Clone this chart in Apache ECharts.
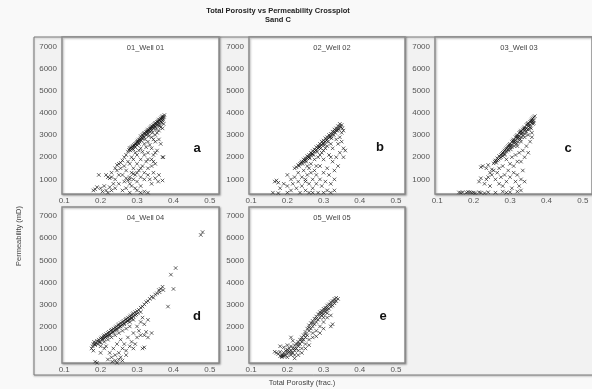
<!DOCTYPE html>
<html><head><meta charset="utf-8">
<script src="https://cdn.jsdelivr.net/npm/echarts@6/dist/echarts.min.js"></script>
<style>html,body{margin:0;padding:0;background:#f9f9f9}#c{width:592px;height:389px}</style>
</head><body><div id="c"></div>
<script>
const chartTitle = 'Total Porosity vs Permeability Crossplot';
const chartSubtitle = 'Sand C';
const xAxisTitle = 'Total Porosity (frac.)';
const yAxisTitle = 'Permeability (mD)';
const wellNames = ['01_Well 01', '02_Well 02', '03_Well 03', '04_Well 04', '05_Well 05'];
const panelLetters = ['a', 'b', 'c', 'd', 'e'];
const xTickLabels = [0.1, 0.2, 0.3, 0.4, 0.5];
const yTickLabels = [1000, 2000, 3000, 4000, 5000, 6000, 7000];

const well01 = [
[0.275,2250],[0.278,2330],[0.28,2400],[0.282,2300],[0.285,2450],[0.287,2380],[0.29,2500],[0.29,2350],[0.292,2550],[0.295,2600],
[0.295,2450],[0.298,2650],[0.3,2700],[0.3,2550],[0.302,2750],[0.305,2800],[0.305,2600],[0.307,2700],[0.31,2850],[0.31,2950],
[0.312,2750],[0.315,3000],[0.315,2850],[0.318,3050],[0.32,3100],[0.32,2900],[0.322,2800],[0.325,3150],[0.325,3000],[0.328,3200],
[0.33,3250],[0.33,3050],[0.332,2950],[0.335,3300],[0.335,3150],[0.338,3350],[0.34,3400],[0.34,3200],[0.342,3100],[0.345,3450],
[0.345,3300],[0.348,3500],[0.35,3550],[0.35,3400],[0.352,3250],[0.355,3600],[0.355,3450],[0.358,3650],[0.36,3700],[0.36,3550],
[0.362,3400],[0.365,3750],[0.365,3600],[0.368,3800],[0.37,3850],[0.37,3650],[0.372,3700],[0.375,3900],[0.373,3500],
[0.282,2420],[0.288,2480],[0.293,2520],[0.297,2580],[0.303,2680],[0.308,2780],[0.313,2880],[0.317,2950],[0.323,3050],[0.327,3120],
[0.333,3220],[0.337,3280],[0.343,3380],[0.347,3420],[0.353,3520],[0.357,3580],[0.363,3680],[0.367,3720],[0.371,3780],[0.374,3820],
[0.35,3350],[0.34,3300],[0.33,3150],[0.36,3450],[0.368,3550],
[0.22,1100],[0.23,1300],[0.24,1500],[0.25,1700],[0.26,1850],[0.265,2000],[0.27,2100],[0.245,1650],[0.255,1750],
[0.26,1200],[0.265,900],[0.27,1050],[0.275,950],[0.28,1100],[0.28,800],[0.285,1300],[0.29,1000],[0.29,1500],[0.295,1200],
[0.3,1700],[0.3,900],[0.305,1400],[0.31,1100],[0.31,1900],[0.315,1600],[0.32,2100],[0.32,1300],[0.325,1800],[0.33,2200],
[0.33,1500],[0.335,1000],[0.34,2400],[0.34,1900],[0.345,2100],[0.35,2700],[0.35,1700],[0.355,2300],[0.36,2800],[0.36,1200],
[0.365,2600],[0.37,3300],[0.37,2000],[0.372,2000],[0.358,900],[0.37,950],[0.345,1300],[0.35,1050],[0.3,500],[0.31,400],
[0.32,450],[0.33,400],[0.28,400],[0.27,600],[0.26,500],[0.25,800],[0.25,1200],[0.24,1000],[0.235,800],[0.23,1100],
[0.225,1050],[0.215,1200],[0.195,1200],[0.19,650],[0.185,550],[0.18,500],[0.2,600],[0.205,450],[0.21,700],[0.215,500],
[0.22,400],[0.225,650],[0.23,500],[0.24,600],[0.245,1400],[0.255,1500],[0.265,1600],[0.27,1400],[0.275,1800],[0.28,1700],
[0.285,2000],[0.29,1900],[0.295,2200],[0.3,2100],[0.305,2300],[0.31,2400],[0.315,2250],[0.32,2600],[0.325,2450],[0.33,2700],
[0.335,2550],[0.34,2900],[0.345,2800],[0.35,3000],[0.355,3100],[0.36,3200],[0.365,3350],[0.34,1600],[0.33,1900],[0.29,1250],
[0.3,1300],[0.31,1500],[0.28,1000],[0.285,700],[0.295,600],[0.34,800],[0.345,1800],[0.35,2200],[0.31,700],[0.32,1000],[0.33,1200]
];
const well02 = [
[0.22,1500],[0.225,1550],[0.23,1650],[0.232,1600],[0.235,1700],[0.238,1750],[0.24,1800],[0.242,1700],[0.245,1900],[0.248,1850],
[0.25,1950],[0.252,1800],[0.255,2050],[0.258,2000],[0.26,2100],[0.262,1950],[0.265,2200],[0.268,2150],[0.27,2280],[0.272,2100],
[0.275,2350],[0.278,2300],[0.28,2450],[0.282,2250],[0.285,2500],[0.288,2450],[0.29,2600],[0.292,2400],[0.295,2700],[0.298,2600],
[0.3,2750],[0.302,2550],[0.305,2850],[0.308,2750],[0.31,2900],[0.312,2700],[0.315,3000],[0.318,2900],[0.32,3050],[0.322,2850],
[0.325,3150],[0.328,3000],[0.33,3250],[0.332,3100],[0.335,3300],[0.338,3200],[0.34,3400],[0.342,3250],[0.345,3500],[0.348,3350],
[0.35,3450],[0.352,3300],[0.355,3200],[0.35,3100],
[0.245,1800],[0.25,1870],[0.26,2000],[0.27,2150],[0.28,2330],[0.29,2500],[0.3,2650],[0.31,2800],[0.32,2950],[0.33,3150],
[0.34,3300],[0.345,3400],[0.335,3200],[0.325,3050],[0.315,2900],[0.305,2700],[0.295,2550],[0.285,2400],[0.275,2250],[0.265,2100],[0.255,1950],
[0.2,1200],[0.21,1000],[0.17,950],[0.165,900],[0.175,850],[0.16,400],[0.175,380],[0.18,600],[0.19,800],[0.2,700],
[0.2,400],[0.21,500],[0.215,800],[0.22,1100],[0.225,600],[0.23,900],[0.23,1300],[0.235,400],[0.24,700],[0.24,1100],
[0.245,1400],[0.25,900],[0.25,500],[0.255,1200],[0.255,1600],[0.26,800],[0.26,400],[0.265,1300],[0.265,1700],[0.27,1000],
[0.27,600],[0.275,1900],[0.275,1400],[0.28,800],[0.28,1200],[0.285,2000],[0.285,400],[0.29,1600],[0.29,1000],[0.295,2200],
[0.295,700],[0.3,1300],[0.3,1900],[0.305,2400],[0.305,900],[0.31,1500],[0.31,500],[0.315,2100],[0.315,1200],[0.32,2600],
[0.32,800],[0.325,1800],[0.325,2400],[0.33,1400],[0.33,500],[0.335,2800],[0.335,2000],[0.34,2600],[0.34,1600],[0.345,2900],
[0.345,2200],[0.35,2700],[0.355,2400],[0.355,2000],[0.36,2300],[0.33,1000],[0.32,400],[0.3,400],[0.27,400],[0.25,1000],
[0.26,1500],[0.28,1600],[0.29,2100],[0.3,2300],[0.31,2500],[0.32,2000]
];
const well03 = [
[0.255,1720],[0.258,1800],[0.26,1850],[0.262,1750],[0.265,1950],[0.268,1900],[0.27,2050],[0.272,1950],[0.275,2100],[0.278,2150],
[0.28,2200],[0.28,2050],[0.283,2250],[0.285,2300],[0.285,2150],[0.288,2350],[0.29,2400],[0.29,2250],[0.293,2450],[0.295,2500],
[0.295,2350],[0.298,2550],[0.3,2600],[0.3,2450],[0.302,2350],[0.305,2700],[0.305,2550],[0.308,2750],[0.31,2800],[0.31,2650],
[0.312,2500],[0.315,2900],[0.315,2750],[0.318,2950],[0.32,3000],[0.32,2850],[0.322,2700],[0.325,3100],[0.325,2950],[0.328,3150],
[0.33,3200],[0.33,3050],[0.332,2900],[0.335,3250],[0.335,3100],[0.338,3300],[0.34,3350],[0.34,3200],[0.342,3050],[0.345,3450],
[0.345,3300],[0.348,3500],[0.35,3550],[0.35,3400],[0.352,3250],[0.355,3600],[0.355,3450],[0.358,3650],[0.36,3700],[0.36,3550],
[0.362,3750],[0.365,3800],[0.365,3650],[0.368,3850],[0.363,3500],[0.358,3300],[0.35,3000],[0.34,2900],[0.33,2700],[0.32,2500],[0.36,3100],
[0.3,2520],[0.31,2720],[0.32,2920],[0.33,3120],[0.34,3280],[0.35,3480],[0.36,3620],[0.345,3150],[0.335,3000],[0.325,2850],
[0.315,2650],[0.305,2450],[0.295,2300],[0.285,2100],[0.275,2000],[0.265,1850],[0.355,3350],[0.365,3550],[0.348,3250],[0.328,2800],[0.318,2600],
[0.22,1550],[0.225,1600],[0.24,1650],[0.235,1500],[0.245,1300],[0.25,1450],[0.255,1400],[0.215,900],[0.22,1050],[0.23,800],
[0.235,1000],[0.24,1100],[0.245,700],[0.25,1200],[0.26,1000],[0.265,1300],[0.27,800],[0.27,1500],[0.275,1100],[0.28,1600],
[0.28,700],[0.285,1200],[0.29,1900],[0.29,900],[0.295,1400],[0.3,1100],[0.3,1700],[0.305,2000],[0.305,600],[0.31,1300],
[0.31,1600],[0.315,900],[0.315,2100],[0.32,1200],[0.32,1800],[0.325,700],[0.325,2200],[0.33,1000],[0.33,1800],[0.335,1400],
[0.335,2300],[0.34,2000],[0.34,900],[0.345,2500],[0.35,2200],[0.355,2700],[0.36,2900],[0.33,500],[0.32,450],[0.3,420],
[0.29,400],[0.28,450],[0.26,400],[0.24,420],[0.23,380],[0.22,400],[0.215,420],[0.2,400],[0.19,420],[0.18,400],
[0.17,420],[0.16,410],[0.205,380],[0.195,400],[0.185,430],[0.165,400]
];
const well04 = [
[0.175,1000],[0.178,1100],[0.18,1200],[0.18,900],[0.182,1300],[0.185,1150],[0.188,1250],[0.19,1350],[0.192,1200],[0.195,1400],
[0.198,1300],[0.2,1450],[0.2,1250],[0.203,1500],[0.205,1400],[0.208,1550],[0.21,1450],[0.21,1600],[0.213,1500],[0.215,1650],
[0.218,1550],[0.22,1700],[0.22,1600],[0.223,1750],[0.225,1650],[0.228,1800],[0.23,1700],[0.23,1850],[0.233,1750],[0.235,1900],
[0.238,1800],[0.24,1950],[0.24,1850],[0.243,2000],[0.245,1900],[0.248,2050],[0.25,1950],[0.25,2100],[0.253,2000],[0.255,2150],
[0.258,2050],[0.26,2200],[0.26,2100],[0.263,2250],[0.265,2150],[0.268,2300],[0.27,2200],[0.27,2350],[0.273,2250],[0.275,2400],
[0.278,2300],[0.28,2450],[0.28,2350],[0.283,2500],[0.285,2400],[0.288,2550],[0.29,2450],[0.29,2600],[0.295,2650],[0.298,2550],
[0.3,2700],[0.302,2600],[0.305,2750],[0.31,2850],[0.31,2650],[0.315,2900],[0.32,3000],[0.325,3100],[0.33,3150],[0.335,3250],
[0.34,3350],[0.345,3300],[0.35,3450],[0.355,3500],[0.36,3650],[0.365,3700],[0.37,3800],[0.362,3550],[0.372,3650],[0.385,2900],
[0.393,4350],[0.4,3700],[0.406,4650],[0.475,6150],[0.48,6280],
[0.255,2000],[0.265,2100],[0.275,2250],[0.285,2350],[0.245,1850],[0.235,1750],[0.225,1600],[0.215,1550],[0.205,1450],[0.195,1300],
[0.185,1200],[0.295,2500],[0.29,2300],[0.28,2200],
[0.24,1600],[0.25,1700],[0.26,1800],[0.27,1900],[0.28,2000],[0.23,1500],[0.22,1400],[0.21,1300],[0.2,1100],
[0.3,2000],[0.3,1500],[0.305,1800],[0.31,2200],[0.315,2400],[0.32,1600],[0.32,2100],[0.325,1750],[0.33,2300],[0.29,1000],
[0.285,1300],[0.29,1700],[0.295,1200],[0.28,1100],[0.275,1500],[0.27,900],[0.265,1200],[0.26,1000],[0.255,1400],[0.25,800],
[0.245,1200],[0.24,700],[0.235,1000],[0.23,600],[0.225,800],[0.22,500],[0.228,300],[0.232,400],[0.24,450],[0.245,350],
[0.25,500],[0.255,600],[0.26,450],[0.265,300],[0.27,700],[0.185,400],[0.19,350],[0.2,300],[0.315,1000],[0.32,1050],
[0.31,1600],[0.33,1500],[0.34,1700],[0.2,800],[0.21,1000],[0.215,1100]
];
const well05 = [
[0.165,850],[0.17,800],[0.175,750],[0.18,650],[0.18,850],[0.185,700],[0.185,600],[0.19,800],[0.19,650],[0.195,900],
[0.195,700],[0.2,750],[0.2,950],[0.2,600],[0.205,850],[0.205,1000],[0.21,900],[0.21,700],[0.21,1100],[0.215,1000],
[0.215,800],[0.22,1150],[0.22,900],[0.22,700],[0.225,1200],[0.225,1000],[0.23,1300],[0.23,1100],[0.23,900],[0.235,1400],
[0.235,1200],[0.24,1500],[0.24,1300],[0.24,1000],[0.245,1600],[0.245,1400],[0.25,1750],[0.25,1500],[0.25,1200],[0.255,1900],
[0.255,1600],[0.26,2050],[0.26,1800],[0.26,1400],[0.265,2150],[0.265,1900],[0.27,2250],[0.27,2000],[0.27,1700],[0.275,2350],
[0.275,2100],[0.28,2450],[0.28,2200],[0.28,1800],[0.285,2550],[0.285,2300],[0.29,2650],[0.29,2400],[0.29,2000],[0.295,2700],
[0.295,2500],[0.3,2800],[0.3,2550],[0.3,2200],[0.305,2850],[0.305,2650],[0.31,2950],[0.31,2750],[0.31,2400],[0.315,3000],
[0.315,2800],[0.32,3100],[0.32,2900],[0.32,2500],[0.325,3150],[0.325,2950],[0.33,3250],[0.33,3050],[0.335,3300],[0.335,3150],
[0.34,3250],[0.32,2000],[0.325,2100],[0.3,1900],[0.29,1700],[0.28,1550],[0.27,1500],[0.21,1500],[0.215,1350],[0.18,1100],
[0.19,1050],[0.2,1150],[0.24,800],[0.25,1000],[0.26,1150],[0.23,700],[0.22,550],
[0.29,2550],[0.3,2700],[0.31,2850],[0.32,3000],[0.33,3150],[0.28,2350],[0.27,2150],[0.26,1950],[0.25,1650],[0.24,1400],
[0.23,1200],[0.22,1000],[0.21,800],[0.2,850],[0.19,700],[0.185,650],[0.3,2400],[0.31,2600],[0.295,2600],[0.305,2750]
];
const wellData = [well01, well02, well03, well04, well05];

const grids = [
  {left: 62, top: 37, width: 157, height: 157},
  {left: 249, top: 37, width: 156, height: 157},
  {left: 435, top: 37, width: 158, height: 157},
  {left: 62, top: 207, width: 157, height: 156},
  {left: 249, top: 207, width: 156, height: 156}
];
const letterPos = [[197,148],[380,147],[568,148],[197,316],[383,316]];

function isTick(v, list) { return list.some(t => Math.abs(t - v) < 1e-6); }
const FONT = 'Liberation Sans';
const gridLine = {show: true, lineStyle: {color: '#e3e3e3', width: 1}};

const option = {
  animation: false,
  backgroundColor: '#f9f9f9',
  textStyle: {fontFamily: FONT},
  title: [
    {text: chartTitle, subtext: chartSubtitle, left: 273, top: 2, textAlign: 'center', itemGap: 1,
     textStyle: {fontSize: 7.5, fontWeight: 'bold', color: '#222', fontFamily: FONT},
     subtextStyle: {fontSize: 7.5, fontWeight: 'bold', color: '#222', fontFamily: FONT}}
  ].concat(grids.map((g, i) => ({
     text: wellNames[i], left: g.left + g.width / 2, top: g.top + 2, textAlign: 'center',
     textStyle: {fontSize: 7.5, fontWeight: 'normal', color: '#444', fontFamily: FONT}}))),
  grid: grids.map(g => Object.assign({show: true, backgroundColor: '#fff', borderColor: '#8c8c8c', borderWidth: 1.5,
     shadowColor: 'rgba(0,0,0,0.3)', shadowBlur: 2, shadowOffsetX: 1, shadowOffsetY: 1, z: 2}, g)),
  xAxis: grids.map((g, i) => ({
    type: 'value', gridIndex: i, min: 0.094, max: 0.525, splitNumber: 5,
    axisLine: {show: false}, axisTick: {show: false},
    axisLabel: {fontSize: 8, color: '#555', margin: 3, showMinLabel: false, showMaxLabel: false,
      formatter: v => isTick(v, xTickLabels) ? String(Math.round(v * 10) / 10) : ''},
    splitLine: {show: true, lineStyle: {color: '#cfcfcf', width: 1}},
    minorTick: {show: false, splitNumber: 3},
    minorSplitLine: gridLine
  })),
  yAxis: grids.map((g, i) => ({
    type: 'value', gridIndex: i, min: 340, max: 7420, splitNumber: 7,
    axisLine: {show: false}, axisTick: {show: false},
    axisLabel: {fontSize: 8, color: '#555', margin: 5, showMinLabel: false, showMaxLabel: false,
      formatter: v => isTick(v, yTickLabels) ? String(v) : ''},
    splitLine: {show: true, lineStyle: {color: '#cfcfcf', width: 1}},
    minorTick: {show: false, splitNumber: 4},
    minorSplitLine: gridLine
  })),
  series: wellData.map((d, i) => ({
    type: 'scatter', xAxisIndex: i, yAxisIndex: i, data: d,
    symbol: 'path://M0,0L10,10M10,0L0,10', symbolSize: 3.5,
    itemStyle: {color: 'rgba(0,0,0,0)', borderColor: '#111', borderWidth: 0.8},
    silent: true, z: 5
  })),
  graphic: [
    {type: 'rect', shape: {x: 34, y: 37, width: 580, height: 338}, z: -10,
     style: {fill: '#f2f2f2', stroke: '#7a7a7a', lineWidth: 1, shadowColor: 'rgba(0,0,0,0.2)', shadowBlur: 2, shadowOffsetY: 1}},
    {type: 'text', x: 19, y: 236, rotation: Math.PI / 2, z: 10,
     style: {text: yAxisTitle, fontSize: 7.5, fill: '#444', fontFamily: FONT, textAlign: 'center', textVerticalAlign: 'middle'}},
    {type: 'text', x: 302, y: 383, z: 10,
     style: {text: xAxisTitle, fontSize: 7.5, fill: '#444', fontFamily: FONT, textAlign: 'center', textVerticalAlign: 'middle'}}
  ].concat(letterPos.map((p, i) => ({
    type: 'text', x: p[0], y: p[1], z: 10,
    style: {text: panelLetters[i], fontSize: 13, fontWeight: 'bold', fill: '#111', fontFamily: FONT, textAlign: 'center', textVerticalAlign: 'middle'}})))
};
const chart = echarts.init(document.getElementById('c'), null, {renderer: 'canvas'});
chart.setOption(option);
</script></body></html>
